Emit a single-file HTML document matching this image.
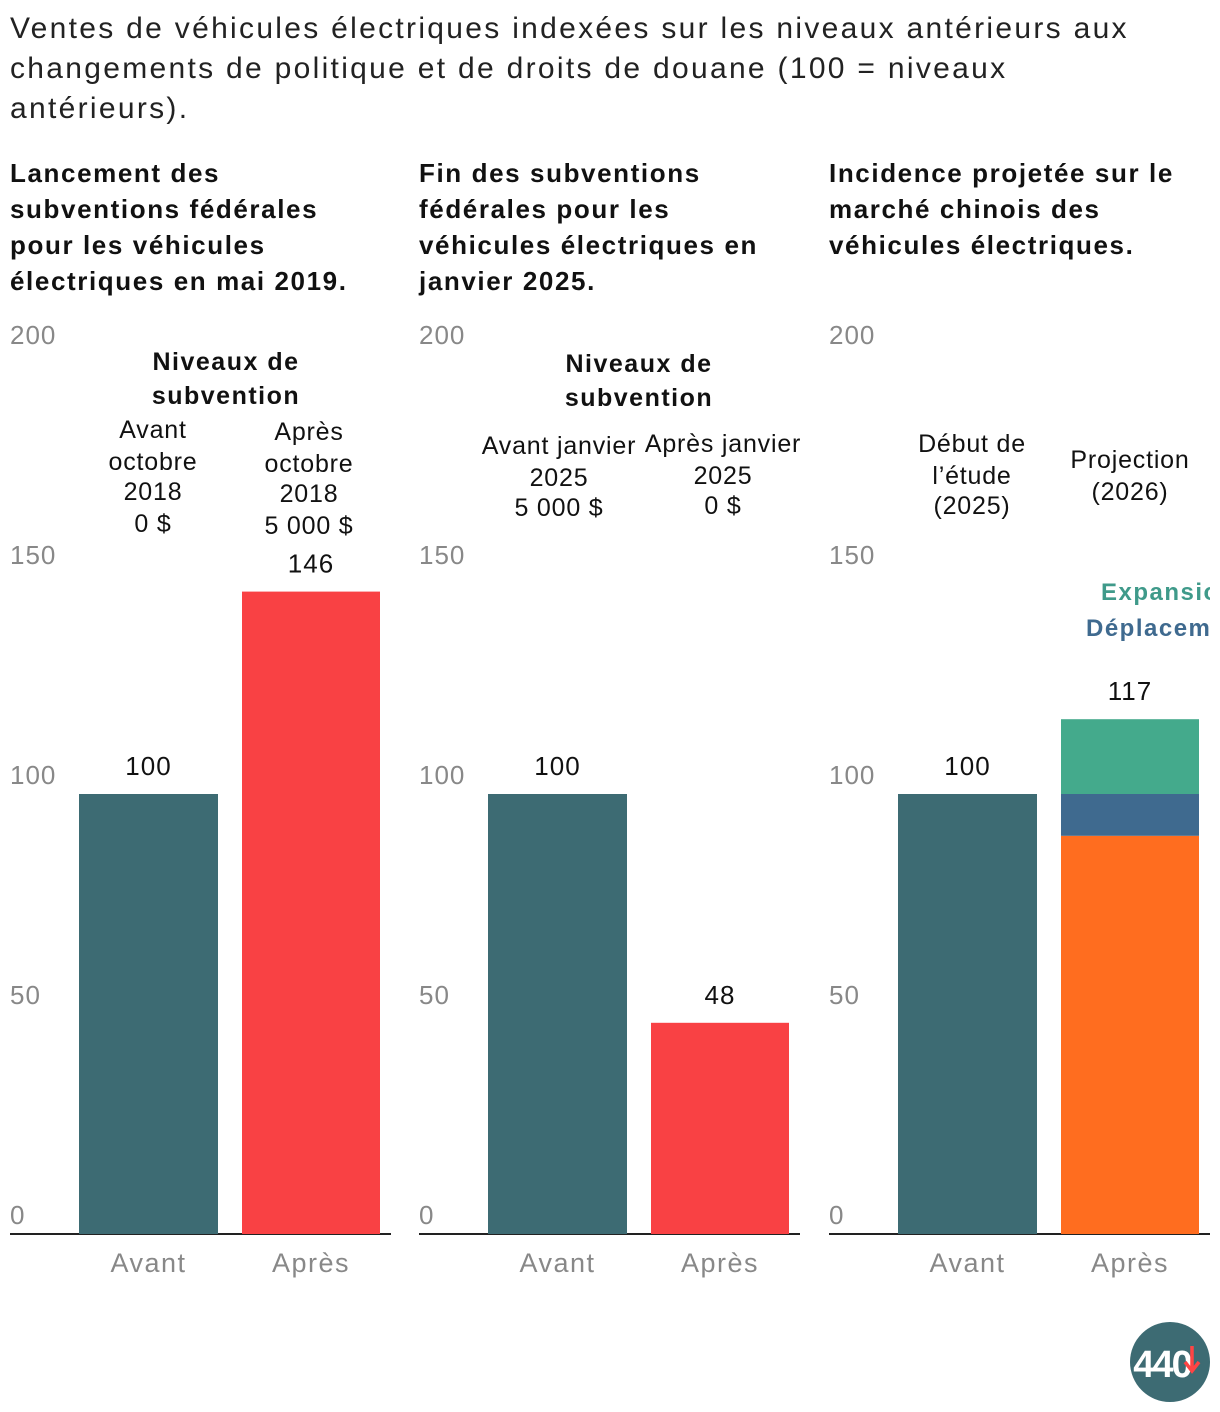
<!DOCTYPE html>
<html><head><meta charset="utf-8"><style>
body{margin:0;background:#fff;}
svg{display:block;font-family:"Liberation Sans",sans-serif;}
</style></head><body>
<svg id="chart" width="1220" height="1412" viewBox="0 0 1220 1412">
<defs><clipPath id="clip"><rect x="0" y="0" width="1210" height="1412"/></clipPath></defs>
<g font-size="30" fill="#222" letter-spacing="2.3">
<text x="10" y="38">Ventes de véhicules électriques indexées sur les niveaux antérieurs aux</text>
<text x="10" y="78">changements de politique et de droits de douane (100 = niveaux</text>
<text x="10" y="118">antérieurs).</text>
</g>
<g id="panels"></g>
<g font-size="25" fill="#111" text-anchor="middle" letter-spacing="0.8">
<text x="226" y="370" font-weight="bold" letter-spacing="1.5">Niveaux de</text>
<text x="226" y="404" font-weight="bold" letter-spacing="1.5">subvention</text>
<text x="153" y="438">Avant</text><text x="153" y="470">octobre</text><text x="153" y="500">2018</text><text x="153" y="532">0 $</text>
<text x="309" y="440">Après</text><text x="309" y="472">octobre</text><text x="309" y="502">2018</text><text x="309" y="534">5 000 $</text>
<text x="639" y="372" font-weight="bold" letter-spacing="1.5">Niveaux de</text>
<text x="639" y="406" font-weight="bold" letter-spacing="1.5">subvention</text>
<text x="559" y="454">Avant janvier</text><text x="559" y="486">2025</text><text x="559" y="516">5 000 $</text>
<text x="723" y="452">Après janvier</text><text x="723" y="484">2025</text><text x="723" y="514">0 $</text>
<text x="972" y="452">Début de</text><text x="972" y="484">l’étude</text><text x="972" y="514">(2025)</text>
<text x="1130" y="468">Projection</text><text x="1130" y="500">(2026)</text>
</g>
<g clip-path="url(#clip)" font-size="24" font-weight="bold" letter-spacing="1.5">
<text x="1101" y="600" fill="#3f9a8a">Expansion</text>
<text x="1086" y="636" fill="#3f6a8f">Déplacement</text>
</g>
<g>
<circle cx="1170" cy="1362" r="40" fill="#3d6b73"/>
<text x="1162" y="1377" font-size="38" font-weight="bold" fill="#fff" text-anchor="middle" letter-spacing="-2">440</text>
<path d="M1192 1346 v22 M1185 1362 l7 9 l7 -9" stroke="#f44" stroke-width="3.5" fill="none"/>
</g>
</svg>
<script>
const panelTitles = [
 ["Lancement des","subventions fédérales","pour les véhicules","électriques en mai 2019."],
 ["Fin des subventions","fédérales pour les","véhicules électriques en","janvier 2025."],
 ["Incidence projetée sur le","marché chinois des","véhicules électriques."]
];
const categories = ["Avant","Après"];
const beforeValues = [100, 100, 100];
const afterValues = [146, 48, 117];
const afterStackOrange = [90.5];
const afterStackBlue = [9.5];
const afterStackGreen = [17];
const yTicks = [0, 50, 100, 150, 200];

const NS = "http://www.w3.org/2000/svg";
const root = document.getElementById("panels");
function el(tag, attrs, parent){const e=document.createElementNS(NS,tag);for(const k in attrs)e.setAttribute(k,attrs[k]);parent.appendChild(e);return e;}
const y = v => 1234 - v*4.4;
const panelX = [10, 419, 829];
const barOff = [[69,139],[232,138]];

panelTitles.forEach((lines,p)=>{
  const x0 = panelX[p];
  const g = el("g",{},root);
  
  
  const t = el("g",{"font-size":"26","font-weight":"bold",fill:"#111","letter-spacing":"1.6"},g);
  
  
  lines.forEach((l,i)=>{const tx=el("text",{x:x0,y:182+36*i},t);tx.textContent=l;});
  yTicks.forEach(v=>{
    const tk=el("text",{x:x0,y:y(v)-10,"font-size":"26",fill:"#888","letter-spacing":"1"},g);
    
    
    tk.textContent=v;
  });
  const ax=el("line",{x1:x0,x2:x0+381,y1:1234,y2:1234,stroke:"#222","stroke-width":"2"},g);
  
  
  const bx=x0+barOff[0][0], bw=barOff[0][1];
  const b=el("rect",{x:bx,y:y(beforeValues[p]),width:bw,height:y(0)-y(beforeValues[p]),fill:"#3d6b73"},g);
  
  
  const ax2=x0+barOff[1][0], aw=barOff[1][1];
  if(p<2){
    const a=el("rect",{x:ax2,y:y(afterValues[p]),width:aw,height:y(0)-y(afterValues[p]),fill:"#f94144"},g);
    
    
  } else {
    let base=0;
    [[afterStackOrange[0],"#ff6d1f","bar-apres-segment-base"],[afterStackBlue[0],"#3f6a8f","bar-apres-segment-deplacement"],[afterStackGreen[0],"#44aa8c","bar-apres-segment-expansion"]].forEach(([v,c,n])=>{
      const r=el("rect",{x:ax2,y:y(base+v),width:aw,height:y(base)-y(base+v),fill:c},g);
      
      
      base+=v;
    });
  }
  [[bx+bw/2,beforeValues[p]],[ax2+aw/2,afterValues[p]]].forEach(([cx,v])=>{
    const vt=el("text",{x:cx,y:y(v)-19,"font-size":"26",fill:"#111","text-anchor":"middle","letter-spacing":"1"},g);
    
    
    vt.textContent=v;
  });
  categories.forEach((c,i)=>{
    const cx=x0+barOff[i][0]+barOff[i][1]/2;
    const ct=el("text",{x:cx,y:1272,"font-size":"27",fill:"#888","text-anchor":"middle","letter-spacing":"1.5"},g);
    
    
    ct.textContent=c;
  });
});
</script>
</body></html>
